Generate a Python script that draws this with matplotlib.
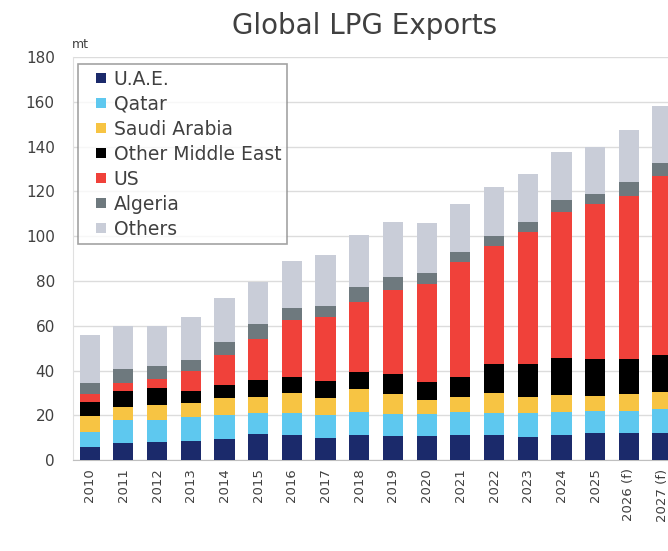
import matplotlib
matplotlib.use("Agg")
import matplotlib.pyplot as plt
from matplotlib.lines import Line2D
import numpy as np

# Global LPG exports by origin, million tonnes
years = ["2010", "2011", "2012", "2013", "2014", "2015", "2016", "2017", "2018",
         "2019", "2020", "2021", "2022", "2023", "2024", "2025", "2026 (f)", "2027 (f)"]

uae = [6.0, 7.7, 8.2, 8.6, 9.4, 11.6, 11.0, 9.8, 11.0, 10.7, 10.7, 11.0, 11.0, 10.5, 11.0, 12.0, 12.0, 12.0]
qatar = [6.6, 10.2, 9.8, 10.7, 10.6, 9.4, 10.0, 10.4, 10.6, 9.8, 10.1, 10.5, 10.0, 10.5, 10.5, 10.0, 10.0, 11.0]
saudi = [7.0, 5.7, 6.6, 6.3, 7.7, 7.3, 9.0, 7.5, 10.0, 9.0, 6.2, 6.5, 9.0, 7.0, 7.5, 6.6, 7.5, 7.5]
other_me = [6.4, 7.4, 7.4, 5.4, 5.8, 7.4, 7.0, 7.7, 7.8, 8.9, 8.0, 9.0, 13.0, 15.0, 16.5, 16.4, 15.5, 16.5]
us = [3.5, 3.5, 4.0, 9.0, 13.4, 18.3, 25.5, 28.4, 31.3, 37.5, 43.6, 51.5, 52.5, 59.0, 65.5, 69.6, 72.9, 80.0]
algeria = [5.0, 6.0, 6.0, 4.6, 5.9, 7.0, 5.5, 5.0, 6.7, 5.8, 5.0, 4.5, 4.5, 4.4, 5.0, 4.4, 6.1, 5.8]
others = [21.3, 19.5, 18.0, 19.4, 19.5, 18.6, 21.0, 22.7, 23.0, 24.7, 22.4, 21.6, 22.0, 21.6, 21.6, 21.0, 23.3, 25.2]

series = [("U.A.E.", uae, "#1b2a6b"),
          ("Qatar", qatar, "#5ec8ef"),
          ("Saudi Arabia", saudi, "#f7c443"),
          ("Other Middle East", other_me, "#000000"),
          ("US", us, "#f0413a"),
          ("Algeria", algeria, "#6e797e"),
          ("Others", others, "#c9cdd8")]

plt.rcParams['font.family'] = ['DejaVu Sans']

fig = plt.figure(figsize=(6.68, 5.51), dpi=100)
# axes run past the right edge, so the last bar is cut like in the source
ax = fig.add_axes([0.109, 0.165, 0.908, 0.7314])

x = np.arange(len(years))
bottom = np.zeros(len(years))
for name, vals, col in series:
    ax.bar(x, vals, width=0.6, bottom=bottom, color=col, label=name, zorder=3)
    bottom += np.array(vals)

ax.set_xlim(-0.5, len(years) - 0.5)
ax.set_ylim(0, 180)
ax.set_yticks(range(0, 181, 20))
ax.yaxis.grid(True, color="#dcdcdc", linewidth=1, zorder=0)
ax.set_xticks(x)
ax.set_xticklabels(years, rotation=90, fontsize=9.5, color="#404040")
ax.tick_params(axis="y", labelsize=11, colors="#404040", length=0, pad=13)
ax.tick_params(axis="x", length=0, pad=6)

for side in ["top", "right"]:
    ax.spines[side].set_visible(False)
ax.spines["left"].set_color("#e0e0e0")
ax.spines["bottom"].set_color("#bfbfbf")

fig.text(0.108, 0.913, "mt", fontsize=9, color="#404040")
fig.text(0.546, 0.952, "Global LPG Exports", fontsize=20, color="#404040",
         ha="center", va="center")

handles = [Line2D([], [], marker="s", linestyle="none", markersize=7,
                  color=col, markeredgewidth=0) for _, _, col in series]
labels = [name for name, _, _ in series]
leg = fig.legend(handles, labels, loc="upper left",
                 bbox_to_anchor=(78 / 668, 1 - 64 / 551),
                 fontsize=13.5, frameon=True, fancybox=False,
                 handlelength=1.8, handletextpad=-0.2, labelspacing=0.32,
                 borderpad=0.3, borderaxespad=0)
leg.get_frame().set_edgecolor("#8c8c8c")
leg.get_frame().set_linewidth(1.2)
for t in leg.get_texts():
    t.set_color("#404040")

plt.savefig("out.png", dpi=100)
